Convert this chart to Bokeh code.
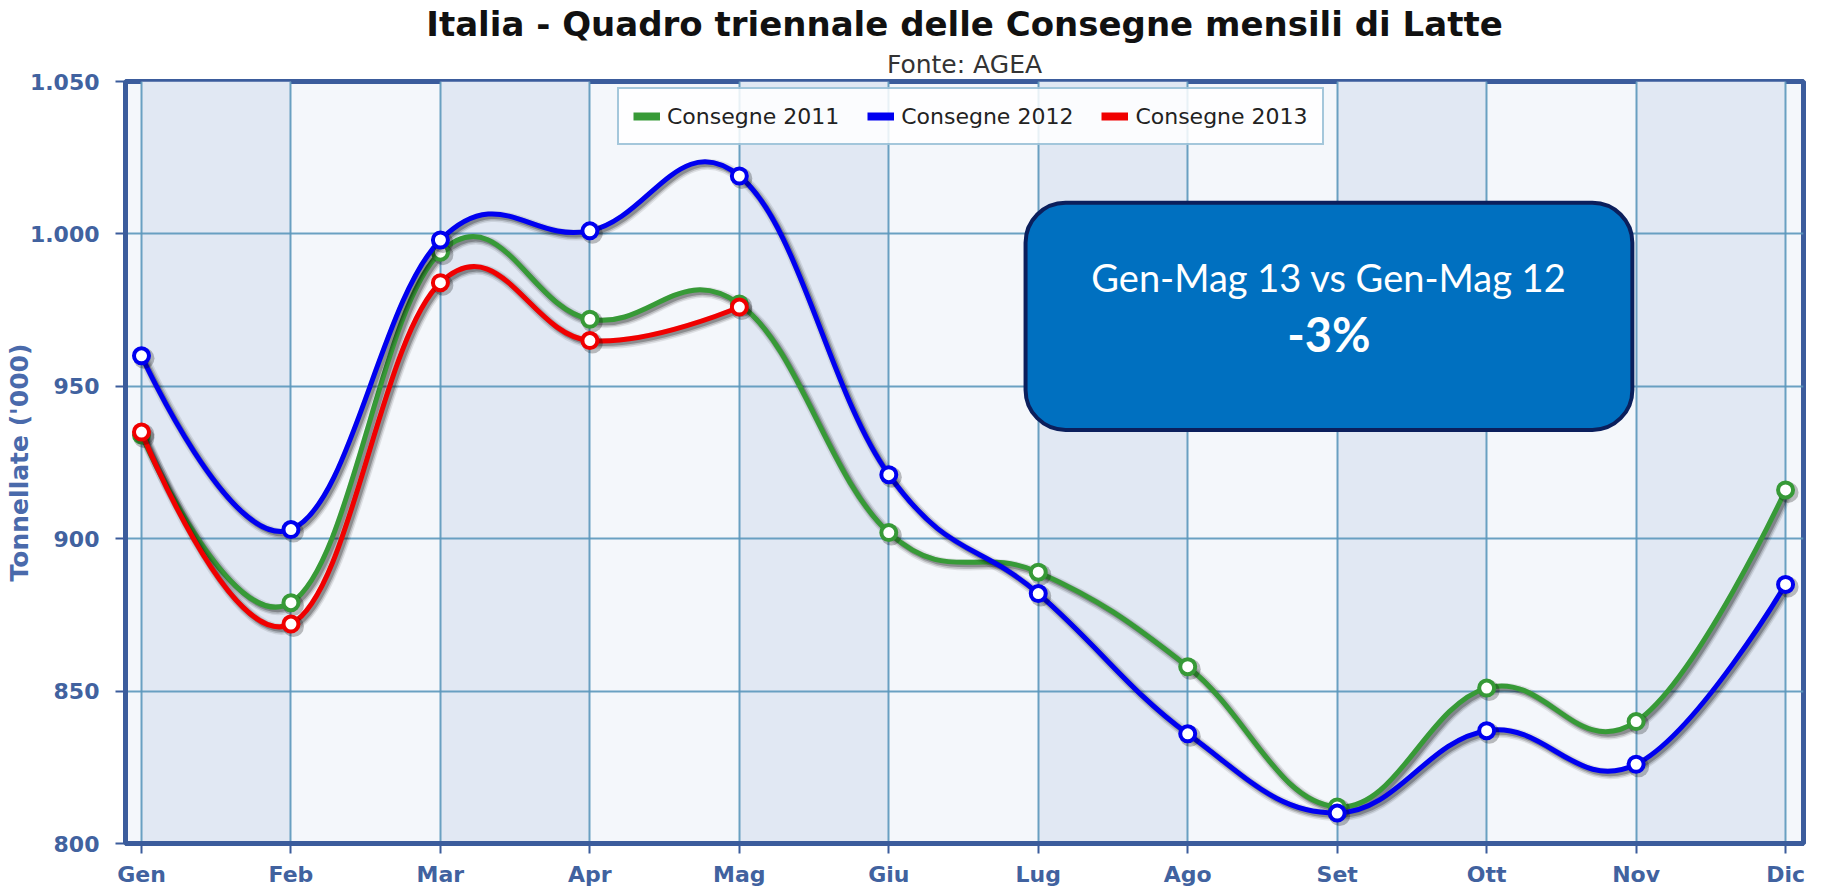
from bokeh.plotting import figure
from bokeh.models import (Range1d, FixedTicker, Legend, LegendItem, BoxAnnotation,
                          Label, Title)
from bokeh.embed import file_html
from bokeh.resources import INLINE

# ---------------- data ----------------
months = ["Gen", "Feb", "Mar", "Apr", "Mag", "Giu", "Lug", "Ago", "Set", "Ott", "Nov", "Dic"]
consegne_2011 = [934, 879, 994, 972, 977, 902, 889, 858, 812, 851, 840, 916]
consegne_2012 = [960, 903, 998, 1001, 1019, 921, 882, 836, 810, 837, 826, 885]
consegne_2013 = [935, 872, 984, 965, 976]
series_names = ["Consegne 2011", "Consegne 2012", "Consegne 2013"]
y_ticks = [800, 850, 900, 950, 1000, 1050]
y_tick_labels = ["800", "850", "900", "950", "1.000", "1.050"]
title_text = "Italia - Quadro triennale delle Consegne mensili di Latte"
subtitle_text = "Fonte: AGEA"
box_line1 = "Gen-Mag 13 vs Gen-Mag 12"
box_line2 = "-3%"

# ---------------- layout ----------------
FRAME_W, FRAME_H = 1678, 762
X0, X1 = -0.107, 11.12
Y0, Y1 = 800, 1050
ppx = FRAME_W / (X1 - X0)
ppy = FRAME_H / (Y1 - Y0)

AXIS_BLUE = "#3b5c9c"
LABEL_BLUE = "#41629f"
GRID = "#5b97bb"

p = figure(frame_width=FRAME_W, frame_height=FRAME_H,
           x_range=Range1d(X0, X1), y_range=Range1d(Y0, Y1),
           output_backend="svg", toolbar_location=None,
           min_border_left=125, min_border_right=16, min_border_top=79,
           min_border_bottom=46, background_fill_color="#f4f7fb",
           border_fill_color="white")

p.add_layout(Title(text=subtitle_text, align="center", text_font="DejaVu Sans",
                   text_font_size="25px", text_font_style="normal",
                   text_color="#333333", standoff=6), "above")
p.add_layout(Title(text=title_text, align="center", text_font="DejaVu Sans",
                   text_font_size="34px", text_font_style="bold",
                   text_color="#111111", standoff=2), "above")

p.outline_line_color = AXIS_BLUE
p.outline_line_width = 5

# grids / bands
p.xgrid.ticker = FixedTicker(ticks=list(range(len(months))))
p.ygrid.ticker = FixedTicker(ticks=y_ticks)
for g in (p.xgrid, p.ygrid):
    g.grid_line_color = GRID
    g.grid_line_width = 2
    g.grid_line_alpha = 0.9
p.xgrid.band_fill_color = "#e1e8f3"
p.xgrid.band_fill_alpha = 1.0

# axes
xa = p.xaxis[0]
xa.ticker = FixedTicker(ticks=list(range(len(months))))
xa.major_label_overrides = {i: m for i, m in enumerate(months)}
ya = p.yaxis[0]
ya.ticker = FixedTicker(ticks=y_ticks)
ya.major_label_overrides = {t: l for t, l in zip(y_ticks, y_tick_labels)}
ya.axis_label = "Tonnellate ('000)"
ya.axis_label_text_font = "DejaVu Sans"
ya.axis_label_text_font_style = "bold"
ya.axis_label_text_font_size = "25px"
ya.axis_label_text_color = "#4a6aab"
ya.axis_label_standoff = -7
for ax in (xa, ya):
    ax.axis_line_color = AXIS_BLUE
    ax.axis_line_width = 5
    ax.major_tick_line_color = AXIS_BLUE
    ax.major_tick_line_width = 2
    ax.major_tick_out = 10
    ax.major_tick_in = 0
    ax.minor_tick_line_color = None
    ax.major_label_text_font = "DejaVu Sans"
    ax.major_label_text_font_style = "bold"
    ax.major_label_text_font_size = "22px"
    ax.major_label_text_color = LABEL_BLUE
xa.major_label_standoff = 8
ya.major_label_standoff = 16


# ---------------- spline (Highcharts-like, no overshoot clamping) ----------------
def spline_segments(xs, ys, smoothing=1.5):
    n = len(xs)
    lcx, lcy = list(xs), list(ys)
    rcx, rcy = list(xs), list(ys)
    denom = smoothing + 1
    for i in range(1, n - 1):
        px, py = xs[i], ys[i]
        lx, ly = xs[i - 1], ys[i - 1]
        nx, ny = xs[i + 1], ys[i + 1]
        lX = (smoothing * px + lx) / denom
        lY = (smoothing * py + ly) / denom
        rX = (smoothing * px + nx) / denom
        rY = (smoothing * py + ny) / denom
        if rX != lX:
            corr = (rY - lY) * (rX - px) / (rX - lX) + py - rY
            lY += corr
            rY += corr
        lcx[i], lcy[i], rcx[i], rcy[i] = lX, lY, rX, rY
    seg = dict(x0=[], y0=[], x1=[], y1=[], cx0=[], cy0=[], cx1=[], cy1=[])
    for i in range(1, n):
        seg["x0"].append(xs[i - 1]); seg["y0"].append(ys[i - 1])
        seg["x1"].append(xs[i]); seg["y1"].append(ys[i])
        seg["cx0"].append(rcx[i - 1]); seg["cy0"].append(rcy[i - 1])
        seg["cx1"].append(lcx[i]); seg["cy1"].append(lcy[i])
    return seg


def shifted(seg, dx, dy):
    out = {}
    for k, v in seg.items():
        d = dx if (k.startswith("x") or k.startswith("cx")) else dy
        out[k] = [a + d for a in v]
    return out


colors = ["#379a37", "#0000f0", "#f00000"]
all_series = [consegne_2011, consegne_2012, consegne_2013]
legend_items = []
sdx, sdy = 2.5 / ppx, -2.5 / ppy

for name, vals, col in zip(series_names, all_series, colors):
    xs = list(range(len(vals)))
    seg = spline_segments(xs, vals)
    sh = shifted(seg, sdx, sdy)
    p.bezier(line_color="black", line_alpha=0.09, line_width=11, **sh)
    p.bezier(line_color="black", line_alpha=0.16, line_width=8, **sh)
    p.bezier(line_color="black", line_alpha=0.25, line_width=5, **sh)
    p.bezier(line_color=col, line_width=5, **seg)
    p.scatter([x + sdx for x in xs], [v + sdy for v in vals], size=21,
              fill_color="black", fill_alpha=0.25, line_color=None)
    p.scatter(xs, vals, size=15, fill_color="white", line_color=col, line_width=4)
    proxy = p.line([0, 0], [vals[0], vals[0]], line_color=col, line_width=8, visible=False)
    legend_items.append(LegendItem(label=name, renderers=[proxy]))

legend = Legend(items=legend_items, orientation="horizontal", location=(492, 698),
                label_text_font="DejaVu Sans", label_text_font_size="22px",
                label_text_color="#222222", glyph_width=27, glyph_height=26,
                label_standoff=7, spacing=28, padding=14, margin=0,
                border_line_color="#4a90b8", border_line_width=2,
                background_fill_color="white", background_fill_alpha=0.85)
p.add_layout(legend, "center")

# annotation box
box = BoxAnnotation(left=5.915, right=9.975, top=1010.2, bottom=935.7,
                    fill_color="#0070c0", fill_alpha=1.0, line_color="#0b1f5c",
                    line_width=4, line_alpha=1.0, border_radius=40)
p.add_layout(box)
p.add_layout(Label(x=7.945, y=985.8, text=box_line1, text_align="center",
                   text_baseline="middle", text_font="Lato", text_font_size="38px",
                   text_color="white"))
p.add_layout(Label(x=7.945, y=967.3, text=box_line2, text_align="center",
                   text_baseline="middle", text_font="Lato", text_font_size="47px",
                   text_font_style="bold", text_color="white"))

open("out.html", "w").write(file_html(p, INLINE))
